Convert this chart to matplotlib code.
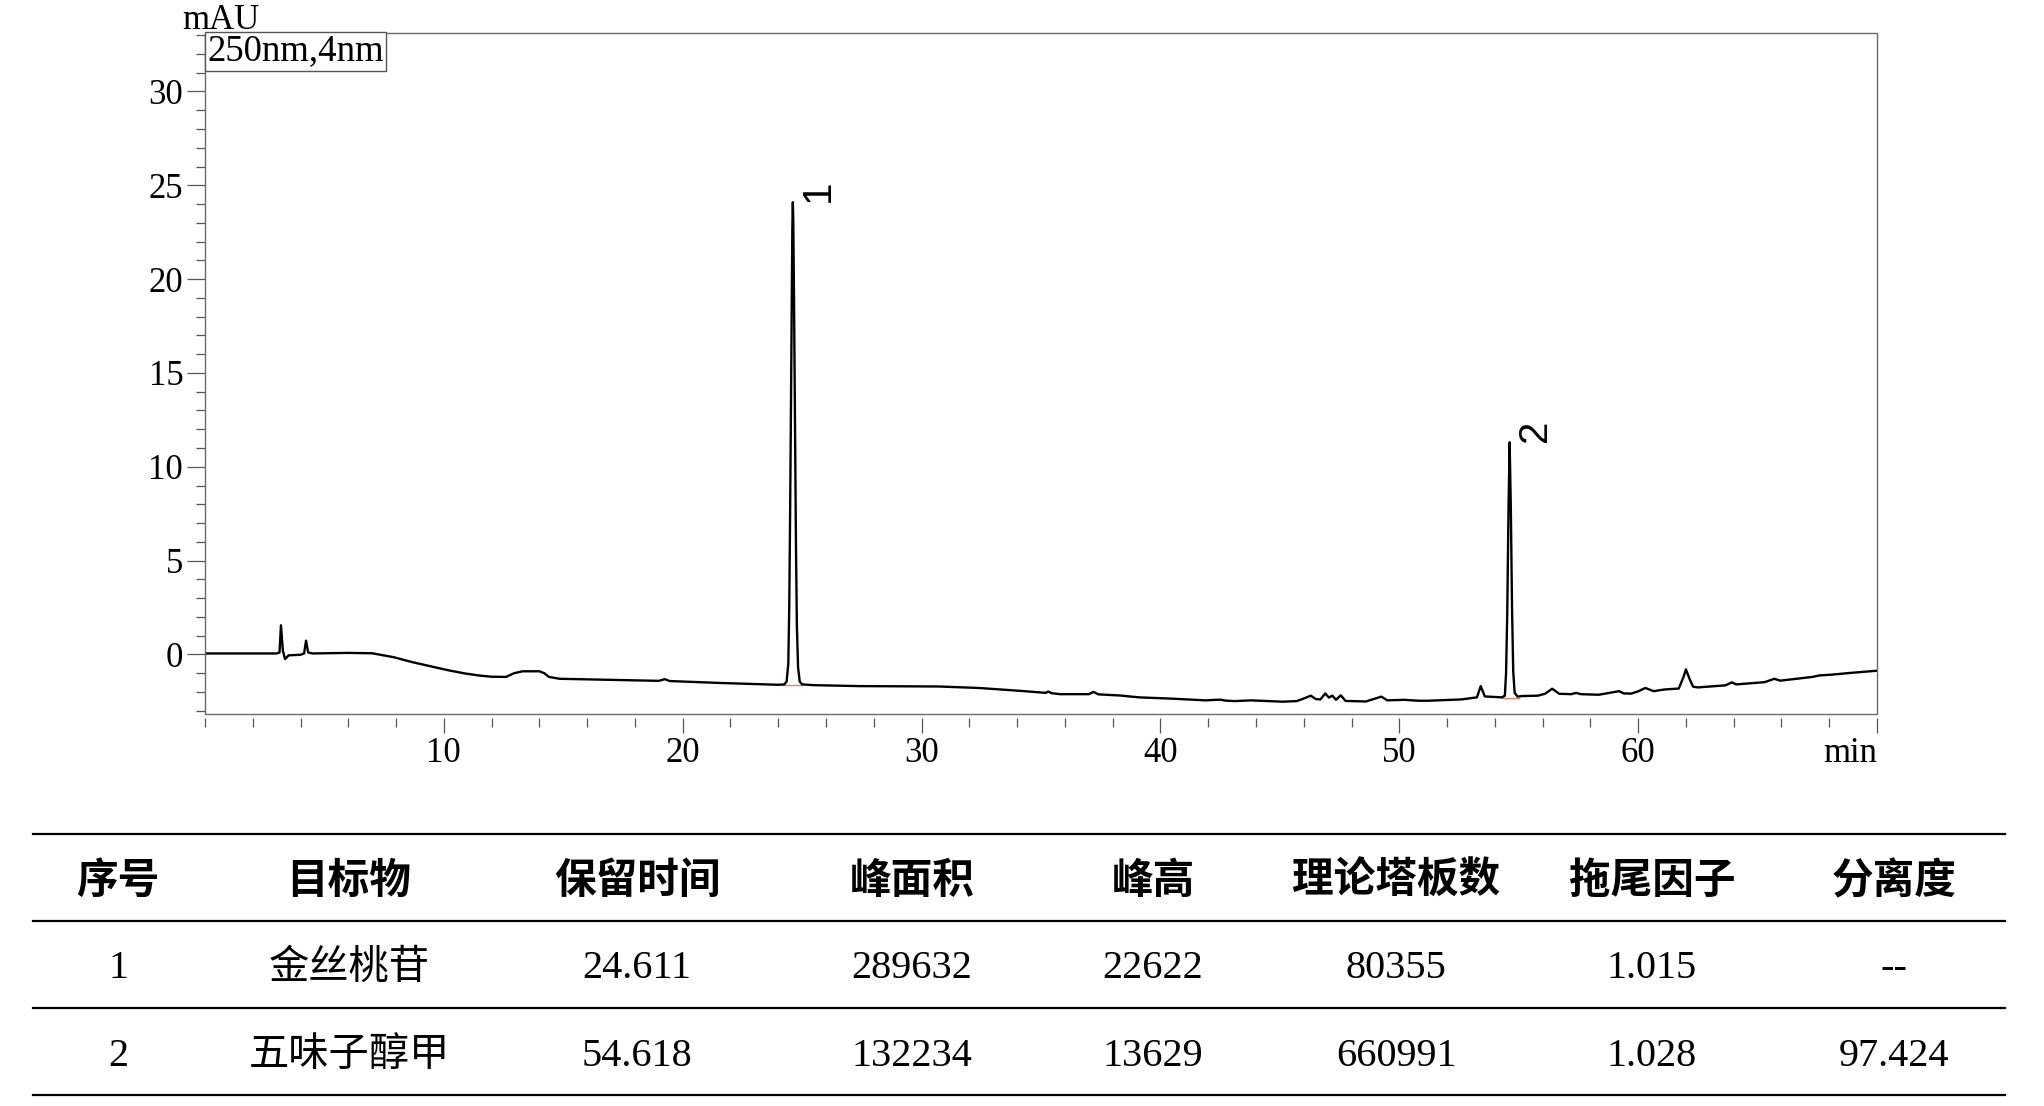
import matplotlib
matplotlib.use('Agg')
import matplotlib.pyplot as plt
from matplotlib.lines import Line2D
from matplotlib.patches import Rectangle
from matplotlib.ticker import MultipleLocator, FixedLocator, FixedFormatter

plt.rcParams['font.family'] = ['Liberation Serif', 'Noto Sans CJK SC']

# chromatogram trace (min, mAU)
t_min = [0.0, 3.0, 3.12, 3.18, 3.26, 3.35, 3.5, 4.0, 4.15, 4.23, 4.32, 4.5, 6.0, 7.0,
         7.9, 8.7, 9.4, 10.2, 10.9, 11.5, 12.0, 12.6, 12.95, 13.3, 14.0, 14.2, 14.4,
         14.85, 16.0, 17.6, 19.0, 19.25, 19.45, 21.5, 24.0,
         24.25, 24.35, 24.42, 24.46, 24.5, 24.53, 24.56, 24.59, 24.611, 24.63, 24.66,
         24.7, 24.74, 24.78, 24.83, 24.9, 25.0, 25.5, 27.4, 29.1, 30.7, 32.4, 34.1,
         35.2, 35.3, 35.45, 35.8, 37.0, 37.2, 37.4, 38.3, 39.1, 40.5, 41.9, 42.5,
         42.7, 43.1, 43.8, 44.4, 45.1, 45.7, 45.9, 46.3, 46.5, 46.7, 46.9, 47.05,
         47.2, 47.35, 47.55, 47.75, 48.6, 49.25, 49.5, 50.2, 50.8, 51.2, 52.6, 53.25,
         53.41, 53.58, 54.3, 54.42, 54.47, 54.52, 54.57, 54.62, 54.67, 54.72, 54.77,
         54.83, 54.95, 55.14, 55.8, 56.1, 56.4, 56.7, 57.2, 57.4, 57.6, 58.35, 59.2,
         59.4, 59.7, 60.0, 60.3, 60.65, 61.1, 61.7, 61.9, 62.0, 62.15, 62.3, 62.5,
         63.65, 63.93, 64.1, 65.3, 65.7, 65.95, 67.3, 67.6, 68.1, 68.95, 70.0]
signal = [0.05, 0.05, 0.1, 1.55, 0.2, -0.25, -0.05, -0.02, 0.05, 0.73, 0.1, 0.05, 0.08, 0.06,
          -0.15, -0.42, -0.62, -0.85, -1.02, -1.13, -1.19, -1.2, -1.0, -0.9, -0.9, -1.0, -1.2,
          -1.3, -1.33, -1.37, -1.41, -1.32, -1.42, -1.52, -1.62,
          -1.6, -1.45, -0.5, 2.5, 8.0, 13.0, 18.5, 22.8, 24.1, 23.0, 19.0,
          12.5, 6.0, 1.5, -0.7, -1.45, -1.6, -1.64, -1.69, -1.7, -1.71, -1.79, -1.94,
          -2.05, -1.98, -2.07, -2.12, -2.12, -2.0, -2.13, -2.19, -2.29, -2.36, -2.45, -2.41,
          -2.46, -2.49, -2.45, -2.48, -2.52, -2.49, -2.4, -2.2, -2.38, -2.4, -2.08, -2.3,
          -2.2, -2.42, -2.18, -2.48, -2.51, -2.25, -2.45, -2.42, -2.47, -2.47, -2.4, -2.29,
          -1.69, -2.24, -2.29, -2.2, -1.0, 2.2, 7.5, 11.3, 7.8, 2.5, -0.9,
          -2.05, -2.25, -2.22, -2.2, -2.1, -1.83, -2.1, -2.12, -2.05, -2.12, -2.15, -1.96,
          -2.08, -2.09, -1.97, -1.79, -1.96, -1.87, -1.82, -1.2, -0.8, -1.3, -1.72, -1.76,
          -1.65, -1.49, -1.6, -1.48, -1.3, -1.4, -1.2, -1.12, -1.08, -0.98, -0.87]

peak_ids = ['1', '2']
peak_rt = [24.611, 54.62]
peak_top = [24.1, 11.3]
peak_start = [24.17, 54.3]
peak_end = [25.0, 55.0]
peak_base = [-1.62, -2.3]

x_ticks = [10, 20, 30, 40, 50, 60, 70]
x_labels = ['10', '20', '30', '40', '50', '60', 'min']

# table
headers = ['序号', '目标物', '保留时间', '峰面积', '峰高', '理论塔板数', '拖尾因子', '分离度']
col_no = ['1', '2']
col_name = ['金丝桃苷', '五味子醇甲']
col_rt = ['24.611', '54.618']
col_area = ['289632', '132234']
col_height = ['22622', '13629']
col_plates = ['80355', '660991']
col_tailing = ['1.015', '1.028']
col_resolution = ['--', '97.424']

W, H = 2044, 1106
fig = plt.figure(figsize=(W / 100, H / 100), dpi=100)
ax = fig.add_axes([205 / W, 1 - 713.5 / H, (1877 - 205) / W, (713.5 - 33.3) / H])

ax.plot(t_min, signal, color='black', lw=1.7, zorder=3)
for i in range(len(peak_ids)):
    ax.plot([peak_start[i], peak_end[i]], [peak_base[i], peak_base[i]],
            color='#f07a6a', lw=1.0, zorder=2)
    ax.annotate(peak_ids[i], xy=(peak_rt[i], peak_top[i]), xytext=(6, 0),
                textcoords='offset pixels', rotation=90, ha='left', va='bottom',
                fontsize=29, family='Liberation Sans')

ax.set_xlim(0, 70)
ax.set_ylim(-3.15, 33.1)
ax.xaxis.set_major_locator(FixedLocator(x_ticks))
ax.xaxis.set_major_formatter(FixedFormatter(x_labels))
ax.xaxis.set_minor_locator(MultipleLocator(2))
ax.yaxis.set_major_locator(MultipleLocator(5))
ax.yaxis.set_minor_locator(MultipleLocator(1))

for s in ax.spines.values():
    s.set_visible(False)
ax.spines['bottom'].set_position(('outward', 3))
ax.add_patch(Rectangle((0, 0), 1, 1, transform=ax.transAxes, fill=False,
                       ec='#6a6a6a', lw=1.0, clip_on=False, zorder=4))

ax.tick_params(axis='x', which='major', direction='out', length=11, width=0.9,
               color='#555555', labelsize=25, pad=3)
ax.tick_params(axis='x', which='minor', direction='out', length=6.5, width=0.9,
               color='#555555')
ax.tick_params(axis='y', which='major', direction='out', length=12.7, width=0.9,
               color='#555555', labelsize=25, pad=3)
ax.tick_params(axis='y', which='minor', direction='out', length=6.7, width=0.9,
               color='#555555')
ax.get_xticklabels()[-1].set_horizontalalignment('right')

fig.text(221 / W, 1 - 29 / H, 'mAU', ha='center', va='baseline', fontsize=25)
ax.text(0.0015, 0.999, '250nm,4nm', transform=ax.transAxes, ha='left', va='top',
        fontsize=26.5, zorder=5,
        bbox=dict(boxstyle='square,pad=0.06', fc='white', ec='#555555', lw=1.0))

# table drawing
x_cols = [118, 349, 637, 912, 1153, 1396, 1652, 1894]
for y in [834, 921, 1008, 1095]:
    fig.add_artist(Line2D([33 / W, 2005 / W], [1 - y / H, 1 - y / H],
                          color='black', lw=1.6))

for j, h in enumerate(headers):
    fig.text(x_cols[j] / W, 1 - 881 / H, h, ha='center', va='center',
             fontsize=30, fontweight='bold', family='Noto Sans CJK SC')

rows = [col_no, col_name, col_rt, col_area, col_height, col_plates, col_tailing,
        col_resolution]
for r, y in enumerate([969, 1056]):
    for j, col in enumerate(rows):
        fig.text(x_cols[j] / W, 1 - y / H, col[r], ha='center', va='center', fontsize=29)

fig.savefig('out.png', dpi=100)
